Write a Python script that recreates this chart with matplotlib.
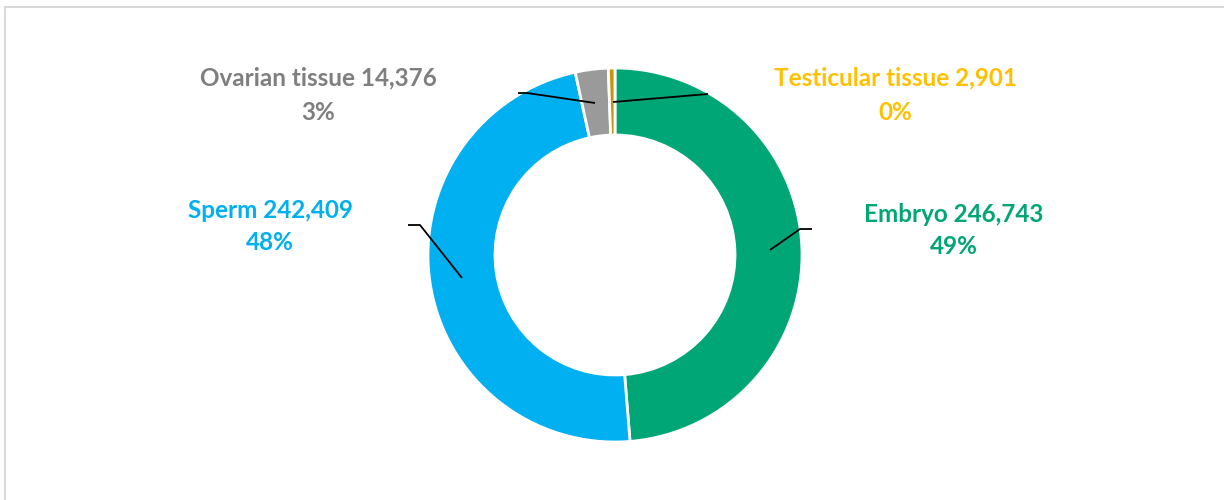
"""Donut chart of stored cryopreserved samples by type."""

from matplotlib import pyplot
from matplotlib.lines import Line2D

# Data.
categories = ['Embryo', 'Sperm', 'Ovarian tissue', 'Testicular tissue']
counts = [246743, 242409, 14376, 2901]
pct_labels = ['49%', '48%', '3%', '0%']

colors = ['#00A676', '#00B0F0', '#9A9A9A', '#C8960C']
text_colors = ['#00A676', '#00B0F0', '#7F7F7F', '#FFC000']

W, H = 1224, 500
fig = pyplot.figure(figsize=(W / 100, H / 100), dpi=100)
ax = fig.add_axes([0, 0, 1, 1])

# Donut centre and radius in pixel units (y up).
cx, cy, r = 615, H - 255, 187
ring = 67

wedges, _ = ax.pie(counts, colors=colors, startangle=90, counterclock=False,
                   center=(cx, cy), radius=r, frame=True,
                   wedgeprops=dict(width=ring, edgecolor='white', linewidth=2))
ax.set_xlim(0, W)
ax.set_ylim(0, H)
ax.set_aspect('equal')
ax.axis('off')

# Leader lines (pixel coordinates, y measured from top).
leaders = [
    [(770, 250), (800, 229), (812, 229)],
    [(408, 225), (420, 225), (462, 278)],
    [(518, 93), (527, 93), (595, 103)],
    [(708, 94), (613, 102)],
]
for pts in leaders:
    xs = [p[0] for p in pts]
    ys = [H - p[1] for p in pts]
    ax.plot(xs, ys, color='black', linewidth=1.3, solid_capstyle='butt')

# Data labels.
label_pos = [(954, 214, 246), (270, 211, 243), (318, 78, 112), (895, 78, 112)]
for cat, n, pct, col, (x, y1, y2) in zip(categories, counts, pct_labels,
                                         text_colors, label_pos):
    ax.text(x, H - y1, f'{cat} {n:,}', color=col, fontsize=17.5,
            fontweight='bold', family='Lato', ha='center', va='center')
    ax.text(x, H - y2, pct, color=col, fontsize=17.5,
            fontweight='bold', family='Lato', ha='center', va='center')

# Chart frame: only the top and left edges show in the picture.
fig.add_artist(Line2D([5 / W, 1], [1 - 7 / H, 1 - 7 / H],
                      color='#D9D9D9', linewidth=1.5))
fig.add_artist(Line2D([5 / W, 5 / W], [0, 1 - 7 / H],
                      color='#D9D9D9', linewidth=1.5))

fig.savefig('out.png', dpi=100)
